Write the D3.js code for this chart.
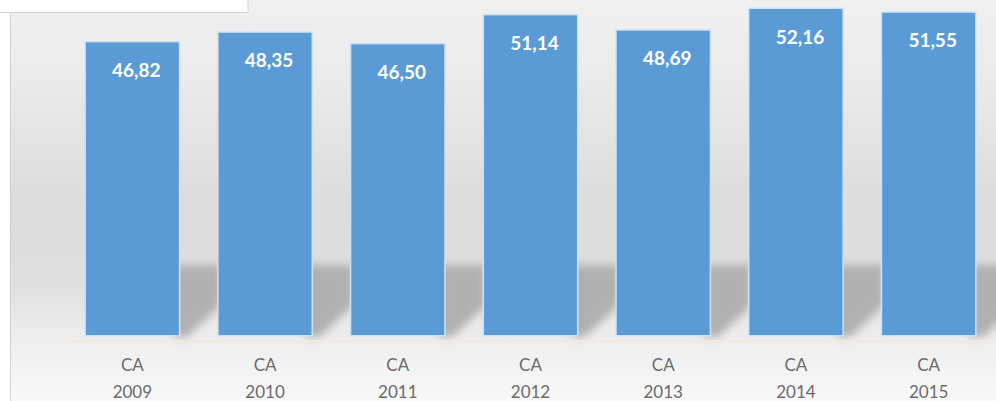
<!DOCTYPE html>
<html>
<head>
<meta charset="utf-8">
<script src="https://cdn.jsdelivr.net/npm/d3@7"></script>
<style>
  html, body { margin: 0; padding: 0; background: #fff; }
  svg { display: block; }
</style>
</head>
<body>
<div class="chart"></div>
<script>
const categories = ["CA\n2009", "CA\n2010", "CA\n2011", "CA\n2012", "CA\n2013", "CA\n2014", "CA\n2015"];
const values = [46.82, 48.35, 46.50, 51.14, 48.69, 52.16, 51.55];
const valueLabels = ["46,82", "48,35", "46,50", "51,14", "48,69", "52,16", "51,55"];

const width = 996, height = 401;
const barColor = "#5b9bd5";
const labelColor = "#6a6a6a";

const svg = d3.select("div.chart").append("svg")
    .attr("width", width)
    .attr("height", height);

const defs = svg.append("defs");

const grad = defs.append("linearGradient")
    .attr("id", "bg")
    .attr("x1", 0).attr("y1", 0)
    .attr("x2", 0).attr("y2", 1);
[[0, "#f0f0f0"], [0.15, "#ececec"], [0.5, "#dcdcdc"], [0.7, "#dedede"], [0.85, "#eeeeee"], [1, "#f8f8f8"]]
    .forEach(s => grad.append("stop").attr("offset", s[0]).attr("stop-color", s[1]));

defs.append("filter")
    .attr("id", "blur")
    .attr("x", "-30%").attr("y", "-30%")
    .attr("width", "160%").attr("height", "160%")
    .append("feGaussianBlur")
    .attr("stdDeviation", 4);

// plot background
svg.append("rect")
    .attr("x", 10).attr("y", 0)
    .attr("width", width - 10).attr("height", height)
    .attr("fill", "url(#bg)");
svg.append("line")
    .attr("x1", 10.5).attr("x2", 10.5)
    .attr("y1", 0).attr("y2", height)
    .attr("stroke", "#d2d2d2");

const x = d3.scaleBand()
    .domain(categories)
    .range([66, 995])
    .paddingInner(0.3)
    .paddingOuter(0.15);

const y = d3.scaleLinear()
    .domain([0, 60])
    .range([335, 335 - 60 * 6.25]);

const data = categories.map((c, i) => ({cat: c, value: values[i], label: valueLabels[i]}));

// cast shadows behind the bars
svg.append("g").selectAll("path")
    .data(data)
    .enter().append("path")
    .attr("d", d => {
        const xr = x(d.cat) + x.bandwidth();
        const b = y(0);
        return `M${xr - 6},${b - 70}L${xr + 42},${b - 70}L${xr + 42},${b - 30}L${xr + 8},${b + 2}L${xr - 6},${b + 2}Z`;
    })
    .attr("fill", "#b0b0b0")
    .attr("filter", "url(#blur)");

// faint axis line
svg.append("line")
    .attr("x1", 66).attr("x2", 995)
    .attr("y1", y(0) + 6).attr("y2", y(0) + 6)
    .attr("stroke", "#f2e9e1")
    .attr("stroke-width", 2);

// light glow round bars
svg.append("g").selectAll("rect")
    .data(data)
    .enter().append("rect")
    .attr("x", d => x(d.cat) - 1.5)
    .attr("y", d => y(d.value) - 1.5)
    .attr("width", x.bandwidth() + 3)
    .attr("height", d => y(0) - y(d.value) + 3)
    .attr("fill", "#cfe1f3");

svg.append("g").selectAll("rect")
    .data(data)
    .enter().append("rect")
    .attr("x", d => x(d.cat))
    .attr("y", d => y(d.value))
    .attr("width", x.bandwidth())
    .attr("height", d => y(0) - y(d.value))
    .attr("fill", barColor);

svg.append("g").selectAll("text")
    .data(data)
    .enter().append("text")
    .attr("x", d => x(d.cat) + x.bandwidth() / 2 + 4)
    .attr("y", d => y(d.value) + 34.5)
    .attr("text-anchor", "middle")
    .attr("font-family", "Lato, sans-serif")
    .attr("font-weight", "bold")
    .attr("font-size", 19)
    .attr("fill", "#ffffff")
    .text(d => d.label);

// category axis
const xAxis = svg.append("g")
    .attr("transform", `translate(0,${y(0)})`)
    .call(d3.axisBottom(x).tickSize(0).tickFormat(""));
xAxis.select(".domain").remove();

xAxis.selectAll(".tick").each(function(d) {
    const t = d3.select(this).append("text")
        .attr("fill", labelColor)
        .attr("text-anchor", "middle")
        .attr("font-family", "Lato, sans-serif")
        .attr("font-size", 17);
    d.split("\n").forEach((line, i) => {
        t.append("tspan")
            .attr("x", 0)
            .attr("y", 36 + i * 27)
            .text(line);
    });
});

// cropped box at top left
svg.append("rect")
    .attr("x", -1).attr("y", -1)
    .attr("width", 249).attr("height", 13.5)
    .attr("fill", "#ffffff")
    .attr("stroke", "#d6d6d6");
</script>
</body>
</html>
